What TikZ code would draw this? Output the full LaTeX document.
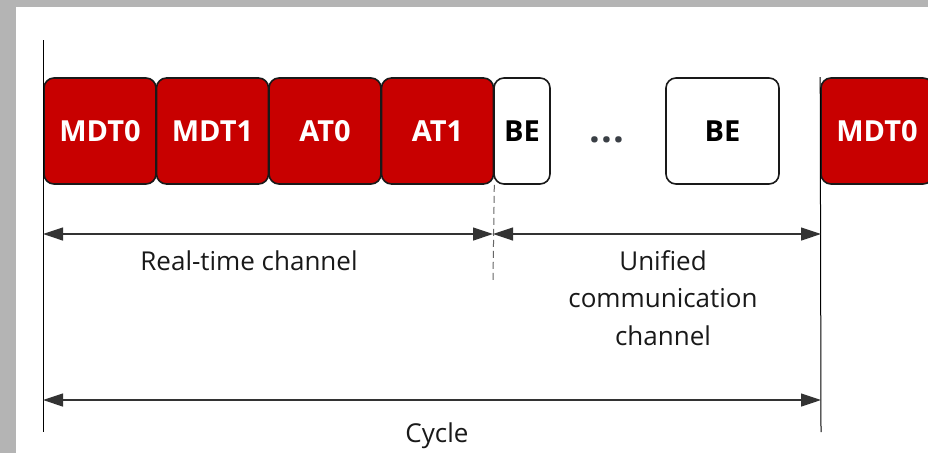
\documentclass[tikz,border=0pt]{standalone}
\usepackage{fontspec}
\setmainfont{Open Sans}
\usetikzlibrary{arrows.meta}
\definecolor{slotred}{HTML}{C80000}
\definecolor{bggray}{HTML}{B4B4B4}
\definecolor{dotgray}{HTML}{3A3F45}
\begin{document}
\begin{tikzpicture}[x=1pt,y=-1pt,
  slot/.style={draw=black!90, line width=1.6pt, rounded corners=10pt, minimum height=106pt, inner sep=0pt, font=\bfseries\fontsize{29}{31}\selectfont},
  rtslot/.style={slot, fill=slotred, text=white},
  beslot/.style={slot, fill=white, text=black},
  dim/.style={line width=1.2pt, draw=black!80, {Triangle[length=20pt,width=13pt]}-{Triangle[length=20pt,width=13pt]}},
  lbl/.style={font=\fontsize{26}{37.5}\selectfont, text=black!90, inner sep=0pt},
  guide/.style={line width=1pt, draw=black}]
\useasboundingbox (0,0) rectangle (928,453);
\clip (0,0) rectangle (928,453);
\fill[bggray] (0,0) rectangle (928,453);
\fill[white] (16,7) rectangle (928,453);

\coordinate (lt) at (43,40);
\coordinate (lb) at (43,432);
\coordinate (rb) at (821,432);
\coordinate (db) at (493,280);

% slots
\node[rtslot, minimum width=112pt] (m0)  at (100,131)   {MDT0};
\node[rtslot, minimum width=112pt] (m1)  at (212.5,131) {MDT1};
\node[rtslot, minimum width=112pt] (a0)  at (325,131)   {AT0};
\node[rtslot, minimum width=112pt] (a1)  at (437.5,131) {AT1};
\node[beslot, minimum width=56pt]  (be1) at (522,131)   {BE};
\node[font=\bfseries\fontsize{38}{40}\selectfont, text=dotgray] (dots) at (607,140) {.\hspace{1pt}.\hspace{1pt}.};
\node[beslot, minimum width=113pt] (be2) at (722.5,131) {BE};
\node[rtslot, minimum width=112pt] (m0b) at (877,131)   {MDT0};

\draw[guide] (lt) -- (lb);
\draw[guide] (m0b.north west) -- (rb);
\draw[line width=1pt, draw=black!60, dash pattern=on 7pt off 4pt] (a1.south east) -- (db);

% dimension arrows
\coordinate (p1) at (43,234);
\coordinate (p2) at (493,234);
\coordinate (p3) at (821,234);
\coordinate (c1) at (43,400);
\coordinate (c2) at (821,400);
\draw[dim] (p1) -- (p2);
\draw[dim] (p2) -- (p3);
\draw[dim] (c1) -- (c2);

% labels
\node[lbl, anchor=base] (rtl) at (249,270) {Real-time channel};
\node[lbl, anchor=base] (cyl) at (437,442) {Cycle};
\node[lbl, align=center, anchor=north] (ucl) at (663,250) {Unified\\communication\\channel};
\end{tikzpicture}
\end{document}
